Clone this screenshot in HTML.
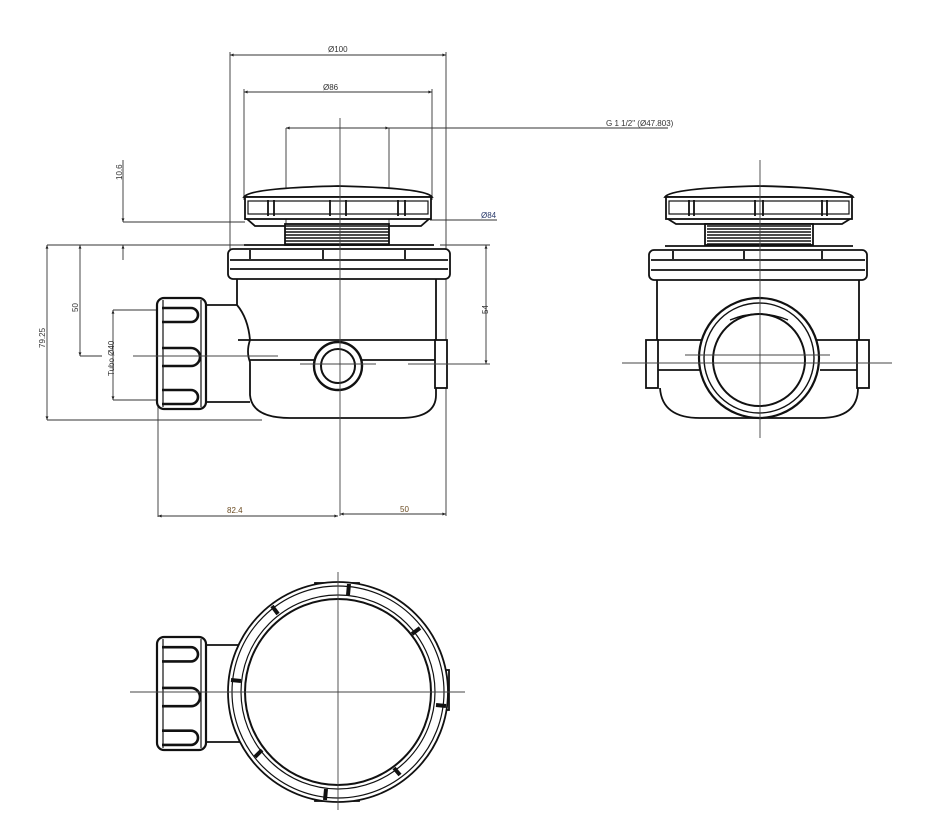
<!DOCTYPE html>
<html><head><meta charset="utf-8"><style>
html,body{margin:0;padding:0;background:#fff;}
svg{display:block;font-family:"Liberation Sans",sans-serif;}
</style></head><body>
<svg width="928" height="832" viewBox="0 0 928 832" xmlns="http://www.w3.org/2000/svg">
<defs>
<marker id="a" viewBox="0 0 10 10" refX="10" refY="5" markerWidth="6" markerHeight="4" orient="auto-start-reverse"><path d="M0,1 L10,5 L0,9 z" fill="#222"/></marker>
<g id="nut">
 <rect x="157" y="0" width="49" height="111" rx="7" fill="#fff" stroke="#111" stroke-width="2.2"/>
 <line x1="163" y1="2" x2="163" y2="109" stroke="#111" stroke-width="1.2"/>
 <line x1="201" y1="2" x2="201" y2="109" stroke="#111" stroke-width="1.2"/>
 <path d="M162,10 H191 a7,7 0 0 1 0,14 H162" fill="none" stroke="#111" stroke-width="2.6"/>
 <path d="M162,50 H191 a8,8 0 0 1 0,18 H162" fill="none" stroke="#111" stroke-width="2.6"/>
 <path d="M162,92 H191 a7,7 0 0 1 0,14 H162" fill="none" stroke="#111" stroke-width="2.6"/>
</g>
<g id="thr" stroke="#111" stroke-width="1.6">
 <line x1="0" y1="2" x2="104" y2="2"/><line x1="0" y1="5" x2="104" y2="5"/><line x1="0" y1="8" x2="104" y2="8"/>
 <line x1="0" y1="11" x2="104" y2="11"/><line x1="0" y1="14" x2="104" y2="14"/><line x1="0" y1="17" x2="104" y2="17"/>
 <line x1="0" y1="20" x2="104" y2="20"/>
</g>
</defs>

<g stroke="#333" stroke-width="0.9" fill="none">
 <line x1="230" y1="55" x2="446" y2="55" marker-start="url(#a)" marker-end="url(#a)"/>
 <line x1="230" y1="52" x2="230" y2="250"/>
 <line x1="446" y1="52" x2="446" y2="516"/>
 <line x1="244" y1="92" x2="432" y2="92" marker-start="url(#a)" marker-end="url(#a)"/>
 <line x1="244" y1="89" x2="244" y2="200"/>
 <line x1="432" y1="89" x2="432" y2="200"/>
 <line x1="286" y1="128" x2="389" y2="128" marker-start="url(#a)" marker-end="url(#a)"/>
 <line x1="389" y1="128" x2="668" y2="128"/>
 <line x1="286" y1="128" x2="286" y2="238"/>
 <line x1="389" y1="128" x2="389" y2="238"/>
 <line x1="123" y1="160" x2="123" y2="222" marker-end="url(#a)"/>
 <line x1="123" y1="222" x2="245" y2="222"/>
 <line x1="123" y1="260" x2="123" y2="245" marker-end="url(#a)"/>
 <line x1="430" y1="220" x2="497" y2="220"/>
 <line x1="47" y1="245" x2="245" y2="245"/>
 <line x1="440" y1="245" x2="490" y2="245"/>
 <line x1="47" y1="245" x2="47" y2="420" marker-start="url(#a)" marker-end="url(#a)"/>
 <line x1="47" y1="420" x2="262" y2="420"/>
 <line x1="80" y1="245" x2="80" y2="356" marker-start="url(#a)" marker-end="url(#a)"/>
 <line x1="80" y1="356" x2="102" y2="356"/>
 <line x1="113" y1="310" x2="113" y2="400" marker-start="url(#a)" marker-end="url(#a)"/>
 <line x1="113" y1="310" x2="160" y2="310"/>
 <line x1="113" y1="400" x2="160" y2="400"/>
 <line x1="486" y1="245" x2="486" y2="364" marker-start="url(#a)" marker-end="url(#a)"/>
 <line x1="158" y1="400" x2="158" y2="517"/>
 <line x1="158" y1="516" x2="338" y2="516" marker-start="url(#a)" marker-end="url(#a)"/>
 <line x1="340" y1="514" x2="446" y2="514" marker-start="url(#a)" marker-end="url(#a)"/>
</g>

<g font-size="8" fill="#333">
 <text x="328" y="52">Ø100</text>
 <text x="323" y="90">Ø86</text>
 <text x="606" y="126">G 1 1/2" (Ø47.803)</text>
 <text x="481" y="218" fill="#2a3a6a">Ø84</text>
 <text x="227" y="513" fill="#6a4a20">82.4</text>
 <text x="400" y="512" fill="#6a4a20">50</text>
 <text transform="translate(122,180) rotate(-90)">10.6</text>
 <text transform="translate(78,312) rotate(-90)">50</text>
 <text transform="translate(45,348) rotate(-90)">79.25</text>
 <text transform="translate(114,376) rotate(-90)">Tubo Ø40</text>
 <text transform="translate(488,314) rotate(-90)">54</text>
</g>

<!-- SIDE VIEW -->
<g stroke="#111" stroke-width="1.8" fill="none">
 <path d="M244,197 Q250,188 338,186 Q426,188 432,197 Z" fill="#fff"/>
 <rect x="245" y="197" width="186" height="22" fill="#fff"/>
 <rect x="248" y="201" width="180" height="13" stroke-width="1.2"/>
 <path d="M247,219 L255,226 H421 L429,219"/>
 <rect x="285" y="224" width="104" height="21" fill="#fff"/>
 <line x1="268" y1="200" x2="268" y2="216"/><line x1="274" y1="200" x2="274" y2="216"/>
 <line x1="330" y1="200" x2="330" y2="216"/><line x1="346" y1="200" x2="346" y2="216"/>
 <line x1="398" y1="200" x2="398" y2="216"/><line x1="405" y1="200" x2="405" y2="216"/>
 <rect x="228" y="249" width="222" height="30" rx="5" fill="#fff"/>
 <line x1="244" y1="245" x2="434" y2="245"/>
 <line x1="230" y1="260" x2="448" y2="260"/>
 <line x1="230" y1="269" x2="448" y2="269"/>
 <line x1="250" y1="250" x2="250" y2="259"/><line x1="323" y1="250" x2="323" y2="259"/><line x1="405" y1="250" x2="405" y2="259"/>
 <path d="M237,279 V305 H207 M237,305 Q248,318 250,340 Q246,352 250,362 V395 Q252,418 290,418 H400 Q436,418 436,395 V340 H238 M436,340 V279" fill="none"/>
 <line x1="250" y1="360" x2="436" y2="360"/>
 <path d="M207,402 H250"/>
 <rect x="435" y="340" width="12" height="48" fill="#fff"/>
 <circle cx="338" cy="366" r="24" fill="#fff" stroke-width="2.4"/>
 <circle cx="338" cy="366" r="17" stroke-width="2"/>
</g>
<use href="#thr" transform="translate(285,224)"/>
<g transform="translate(0,298)"><use href="#nut"/></g>
<g stroke="#444" stroke-width="0.9">
 <line x1="340" y1="118" x2="340" y2="516"/>
 <line x1="133" y1="356" x2="278" y2="356"/>
 <line x1="300" y1="364" x2="376" y2="364"/>
 <line x1="408" y1="364" x2="490" y2="364"/>
</g>

<!-- RIGHT VIEW -->
<g stroke="#111" stroke-width="1.8" fill="none">
 <path d="M665,197 Q671,188 759,186 Q847,188 853,197 Z" fill="#fff"/>
 <rect x="666" y="197" width="186" height="22" fill="#fff"/>
 <rect x="669" y="201" width="180" height="13" stroke-width="1.2"/>
 <path d="M668,219 L676,224 H842 L850,219"/>
 <rect x="705" y="224" width="108" height="21" fill="#fff"/>
 <line x1="689" y1="200" x2="689" y2="216"/><line x1="694" y1="200" x2="694" y2="216"/>
 <line x1="755" y1="200" x2="755" y2="216"/><line x1="763" y1="200" x2="763" y2="216"/>
 <line x1="822" y1="200" x2="822" y2="216"/><line x1="827" y1="200" x2="827" y2="216"/>
 <rect x="649" y="250" width="218" height="30" rx="5" fill="#fff"/>
 <line x1="665" y1="246" x2="853" y2="246"/>
 <line x1="651" y1="260" x2="865" y2="260"/>
 <line x1="651" y1="270" x2="865" y2="270"/>
 <line x1="673" y1="251" x2="673" y2="259"/><line x1="744" y1="251" x2="744" y2="259"/><line x1="822" y1="251" x2="822" y2="259"/>
 <path d="M657,280 V340 M859,280 V340"/>
 <path d="M657,340 H859 M660,388 Q662,418 700,418 H820 Q858,418 858,388"/>
 <line x1="657" y1="370" x2="700" y2="370"/><line x1="820" y1="370" x2="859" y2="370"/>
 <rect x="646" y="340" width="12" height="48" fill="#fff"/>
 <rect x="857" y="340" width="12" height="48" fill="#fff"/>
 <circle cx="759" cy="358" r="60" fill="#fff" stroke-width="2.2"/>
 <circle cx="759" cy="358" r="55" stroke-width="1.4"/>
 <circle cx="759" cy="360" r="46" stroke-width="2"/>
 <path d="M730,320 Q759,308 788,320" stroke-width="1.4"/>
</g>
<use href="#thr" transform="translate(707,224)"/>
<g stroke="#444" stroke-width="0.9">
 <line x1="760" y1="160" x2="760" y2="438"/>
 <line x1="622" y1="363" x2="690" y2="363"/>
 <line x1="826" y1="363" x2="892" y2="363"/>
 <line x1="690" y1="363" x2="826" y2="363"/>
 <line x1="685" y1="355" x2="830" y2="355"/>
</g>

<!-- BOTTOM VIEW -->
<g stroke="#111" stroke-width="1.8" fill="none">
 <path d="M207,645 H240 M207,742 H240"/>
 <rect x="315" y="583" width="44" height="5" fill="#fff"/>
 <rect x="315" y="796" width="44" height="5" fill="#fff"/>
 <rect x="444" y="670" width="5" height="40" fill="#fff"/>
 <circle cx="338" cy="692" r="110" fill="#fff"/>
 <circle cx="338" cy="692" r="106" stroke-width="1.2"/>
 <circle cx="338" cy="692" r="97" stroke-width="1.2"/>
 <circle cx="338" cy="692" r="93" stroke-width="2"/>
 <g stroke-width="4" stroke="#111">
  <line x1="349" y1="584" x2="348" y2="595"/><line x1="272" y1="606" x2="278" y2="614"/>
  <line x1="420" y1="628" x2="412" y2="634"/><line x1="231" y1="680" x2="241" y2="681"/>
  <line x1="446" y1="706" x2="436" y2="705"/><line x1="255" y1="757" x2="262" y2="750"/>
  <line x1="400" y1="775" x2="394" y2="768"/><line x1="325" y1="800" x2="326" y2="789"/>
 </g>
</g>
<g transform="translate(0,637) scale(1,1.018)"><use href="#nut"/></g>
<g stroke="#444" stroke-width="0.9"><line x1="338" y1="572" x2="338" y2="810"/><line x1="130" y1="692" x2="465" y2="692"/></g>
</svg>
</body></html>
